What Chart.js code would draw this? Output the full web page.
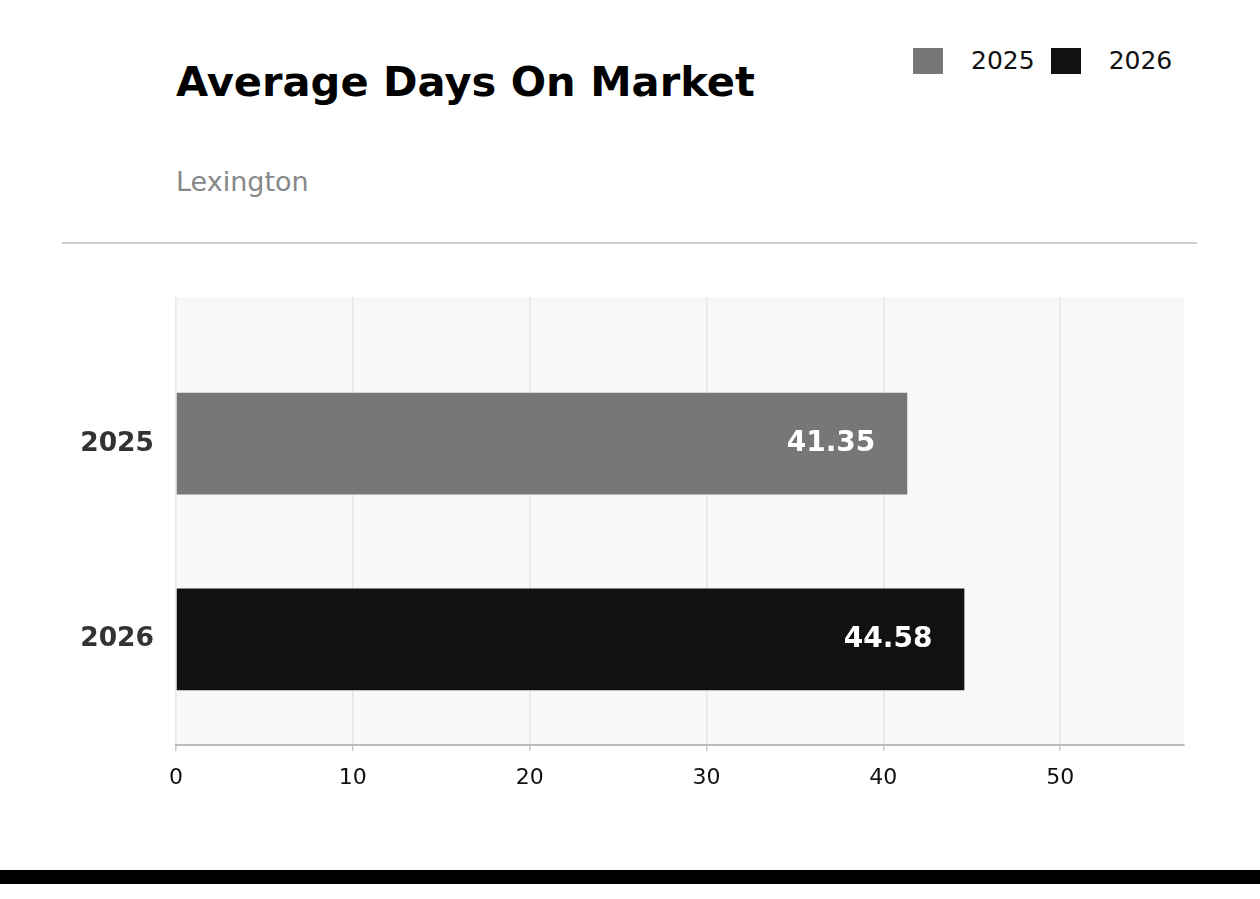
<!DOCTYPE html>
<html>
<head>
<meta charset="utf-8">
<script src="https://cdn.jsdelivr.net/npm/chart.js"></script>
<style>
  html, body { margin: 0; padding: 0; background: #fff; }
  body { width: 1260px; height: 899px; position: relative; overflow: hidden; font-family: 'DejaVu Sans', sans-serif; }
  #chart { position: absolute; left: 0; top: 0; }
  .title { position: absolute; left: 176px; top: 61px; font-size: 41.6px; font-weight: bold; line-height: 1; color: #000; }
  .subtitle { position: absolute; left: 176px; top: 168px; font-size: 27px; line-height: 1; color: #888; }
  .divider { position: absolute; left: 62px; top: 242px; width: 1135px; height: 2px; background: #cccccc; }
  .footer-bar { position: absolute; left: 0; top: 870px; width: 1260px; height: 14px; background: #000; }
  #legend { position: absolute; left: 913px; top: 48px; display: flex; align-items: center; font-size: 25px; line-height: 26px; color: #111; }
  #legend .item { display: flex; align-items: center; margin-right: 16px; }
  #legend .item:last-child { margin-right: 0; }
  #legend .swatch { width: 30px; height: 26px; margin-right: 28px; }
</style>
</head>
<body>
<div class="title">Average Days On Market</div>
<div class="subtitle">Lexington</div>
<div class="divider"></div>
<div id="legend"></div>
<canvas id="chart" width="1260" height="899"></canvas>
<div class="footer-bar"></div>

<script>
// --- DATOS ---
const years = ['2025', '2026'];
const avgDays = [41.35, 44.58];
const barColors = ['#777777', '#111111'];
const xTicks = [0, 10, 20, 30, 40, 50];

// Leyenda en HTML
const legendEl = document.querySelector('#legend');
legendEl.innerHTML = years.map((y, i) => `
  <div class="item"><span class="swatch" style="background:${barColors[i]}"></span>${y}</div>
`).join('');

// Fondo gris claro del área de trazado
const plotBackground = {
  id: 'plotBackground',
  beforeDraw: (chart) => {
    const { ctx, chartArea: a } = chart;
    ctx.save();
    ctx.fillStyle = '#f8f8f8';
    ctx.fillRect(a.left, a.top, a.right - a.left, a.bottom - a.top);
    ctx.restore();
  }
};

// Etiquetas de valor dentro de cada barra
const valueLabels = {
  id: 'valueLabels',
  afterDatasetsDraw: (chart) => {
    const { ctx } = chart;
    const meta = chart.getDatasetMeta(0);
    ctx.save();
    ctx.font = 'bold 28px "DejaVu Sans"';
    ctx.fillStyle = '#ffffff';
    ctx.textAlign = 'right';
    ctx.textBaseline = 'middle';
    meta.data.forEach((bar, i) => {
      ctx.fillText(avgDays[i].toFixed(2), bar.x - 32, bar.y);
    });
    ctx.restore();
  }
};

new Chart(document.querySelector('#chart'), {
  type: 'bar',
  data: {
    datasets: [{
      data: years.map((y, i) => ({ x: avgDays[i], y: i })),
      backgroundColor: barColors,
      borderWidth: 0,
      categoryPercentage: 1,
      barPercentage: 0.52
    }]
  },
  options: {
    indexAxis: 'y',
    responsive: false,
    animation: false,
    layout: { padding: { top: 297, right: 76, bottom: 104, left: 0 } },
    plugins: {
      legend: { display: false },
      tooltip: { enabled: false }
    },
    scales: {
      x: {
        type: 'linear',
        min: 0,
        max: 57,
        afterBuildTicks: (s) => { s.ticks = xTicks.map(v => ({ value: v })); },
        afterFit: (s) => { s.height = 50; },
        grid: { color: '#e6e6e6', lineWidth: 1.5, tickLength: 6, tickColor: '#cccccc' },
        border: { display: true, color: '#bbbbbb', width: 2 },
        ticks: { color: '#111', padding: 14, font: { family: 'DejaVu Sans', size: 22 } }
      },
      y: {
        type: 'linear',
        reverse: true,
        offset: false,
        min: -0.75,
        max: 1.54,
        afterBuildTicks: (s) => { s.ticks = years.map((y, i) => ({ value: i })); },
        afterFit: (s) => { s.width = 176; },
        grid: { display: false, offset: false },
        border: { display: false },
        ticks: {
          color: '#333',
          padding: 14,
          font: { family: 'DejaVu Sans', size: 26.5, weight: 'bold' },
          callback: (v) => years[v]
        }
      }
    }
  },
  plugins: [plotBackground, valueLabels]
});
</script>
</body>
</html>
